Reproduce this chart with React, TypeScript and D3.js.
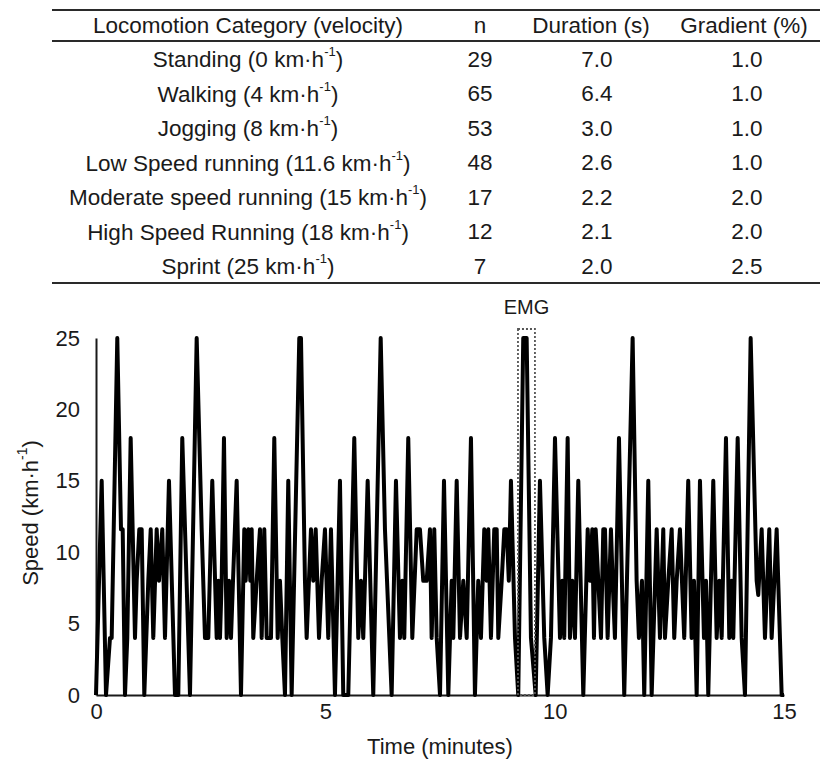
import { useRef, useEffect } from "react";
import * as d3 from "d3";

// table content
const categoryNames = [
  "Standing",
  "Walking",
  "Jogging",
  "Low Speed running",
  "Moderate speed running",
  "High Speed Running",
  "Sprint",
];
const categorySpeeds = ["0", "4", "8", "11.6", "15", "18", "25"];
const nValues = ["29", "65", "53", "48", "17", "12", "7"];
const durations = ["7.0", "6.4", "3.0", "2.6", "2.2", "2.1", "2.0"];
const gradients = ["1.0", "1.0", "1.0", "1.0", "2.0", "2.0", "2.5"];
const headers = ["Locomotion Category (velocity)", "n", "Duration (s)", "Gradient (%)"];

// speed profile (minutes, km/h)
const timeMin = [
  0.0, 0.124, 0.218, 0.305, 0.342, 0.464, 0.545, 0.582, 0.632, 0.682, 0.756, 0.85, 0.887, 0.944,
  0.996, 1.053, 1.14, 1.193, 1.249, 1.323, 1.373, 1.445, 1.504, 1.591, 1.722, 1.794, 1.881, 2.049,
  2.195, 2.304, 2.376, 2.448, 2.535, 2.631, 2.666, 2.703, 2.74, 2.79, 2.849, 2.9, 2.943, 2.987,
  3.067, 3.161, 3.233, 3.263, 3.32, 3.364, 3.394, 3.429, 3.503, 3.575, 3.612, 3.669, 3.722, 3.815,
  3.887, 3.961, 4.011, 4.062, 4.12, 4.192, 4.266, 4.432, 4.469, 4.556, 4.593, 4.687, 4.737, 4.79,
  4.862, 4.92, 4.992, 5.064, 5.123, 5.21, 5.319, 5.391, 5.5, 5.631, 5.718, 5.777, 5.827, 5.864,
  5.923, 6.045, 6.207, 6.3, 6.446, 6.54, 6.627, 6.677, 6.721, 6.808, 6.896, 6.992, 7.063, 7.135,
  7.21, 7.281, 7.318, 7.375, 7.428, 7.5, 7.587, 7.681, 7.755, 7.79, 7.864, 7.936, 8.008, 8.082,
  8.175, 8.262, 8.334, 8.393, 8.465, 8.518, 8.553, 8.611, 8.683, 8.736, 8.771, 8.845, 8.902, 8.954,
  9.0, 9.047, 9.135, 9.206, 9.315, 9.389, 9.483, 9.586, 9.679, 9.773, 9.847, 9.919, 10.007, 10.116,
  10.166, 10.209, 10.283, 10.333, 10.384, 10.443, 10.515, 10.624, 10.72, 10.77, 10.82, 10.857,
  10.894, 10.951, 11.01, 11.06, 11.097, 11.155, 11.227, 11.264, 11.314, 11.402, 11.517, 11.7,
  11.787, 11.837, 11.903, 11.953, 12.041, 12.115, 12.224, 12.296, 12.368, 12.405, 12.477, 12.551,
  12.607, 12.66, 12.731, 12.825, 12.912, 12.986, 13.037, 13.096, 13.168, 13.255, 13.299, 13.349,
  13.458, 13.532, 13.589, 13.641, 13.735, 13.807, 13.859, 13.894, 13.99, 14.077, 14.149, 14.273,
  14.404, 14.439, 14.513, 14.585, 14.679, 14.731, 14.84, 14.949, 15.0,
];
const speedKmh = [
  0, 15, 0, 4, 4, 25, 11.6, 11.6, 0, 4, 18, 4, 8, 11.6,
  11.6, 0, 8, 11.6, 4, 11.6, 8, 11.6, 4, 15, 0, 0, 18, 0,
  25, 11.6, 4, 4, 15, 4, 8, 4, 8, 18, 4, 8, 4, 8,
  15, 0, 11.6, 8, 11.6, 8, 11.6, 4, 8, 11.6, 4, 11.6, 4, 4,
  18, 4, 8, 4, 0, 15, 0, 25, 25, 8, 4, 11.6, 8, 11.6,
  4, 8, 11.6, 4, 11.6, 0, 15, 0, 0, 18, 4, 8, 4, 8,
  15, 0, 25, 11.6, 0, 15, 4, 8, 4, 18, 4, 11.6, 11.6, 8,
  8, 11.6, 4, 11.6, 4, 0, 15, 0, 8, 4, 15, 4, 8, 4,
  18, 0, 8, 4, 11.6, 8, 11.6, 4, 11.6, 11.6, 4, 8, 11.6, 11.6,
  8, 15, 4, 0, 25, 25, 4, 0, 15, 4, 0, 4, 18, 4,
  8, 4, 18, 4, 8, 4, 15, 0, 11.6, 8, 11.6, 4,
  11.6, 8, 4, 11.6, 11.6, 4, 11.6, 8, 4, 18, 0, 25,
  8, 4, 8, 0, 15, 0, 11.6, 4, 11.6, 4, 8, 11.6,
  4, 8, 11.6, 4, 15, 4, 8, 0, 15, 4, 8, 0,
  15, 4, 8, 4, 18, 4, 8, 4, 18, 4, 0, 25,
  8, 7, 11.6, 4, 11.6, 4, 11.6, 0, 0,
];
const yTicks = [0, 5, 10, 15, 20, 25];
const xTicks = [0, 5, 10, 15];

const FONT = "'Liberation Sans', Arial, sans-serif";

export default function App() {
  const ref = useRef<SVGSVGElement>(null);

  useEffect(() => {
    if (!ref.current) return;
    const svg = d3.select(ref.current);
    svg.selectAll("*").remove();

    // ---- table ----
    const table = svg.append("g").attr("font-family", FONT).attr("font-size", 22.5).attr("fill", "#1a1a1a");
    const ruleX = [52, 820];
    [10, 41, 283].forEach((y) =>
      table
        .append("line")
        .attr("x1", ruleX[0])
        .attr("x2", ruleX[1])
        .attr("y1", y)
        .attr("y2", y)
        .attr("stroke", "#2a2a2a")
        .attr("stroke-width", 2.2)
    );

    const headerX = [248, 480, 591, 744];
    const dataX = [248, 480, 597, 747];
    headers.forEach((h, i) =>
      table
        .append("text")
        .attr("x", headerX[i])
        .attr("y", 25)
        .attr("text-anchor", "middle")
        .attr("dominant-baseline", "central")
        .text(h)
    );

    const rowY = d3.scalePoint<number>().domain(d3.range(categoryNames.length)).range([59, 266]);
    categoryNames.forEach((name, i) => {
      const t = table
        .append("text")
        .attr("x", dataX[0])
        .attr("y", rowY(i)!)
        .attr("text-anchor", "middle")
        .attr("dominant-baseline", "central");
      t.append("tspan").text(`${name} (${categorySpeeds[i]} km·h`);
      t.append("tspan").attr("font-size", 13).attr("dy", -8).text("-1");
      t.append("tspan").attr("dy", 8).text(")");
      [nValues[i], durations[i], gradients[i]].forEach((v, j) =>
        table
          .append("text")
          .attr("x", dataX[j + 1])
          .attr("y", rowY(i)!)
          .attr("text-anchor", "middle")
          .attr("dominant-baseline", "central")
          .text(v)
      );
    });

    // ---- speed chart ----
    const x = d3.scaleLinear().domain([0, 15]).range([96, 784]);
    const y = d3.scaleLinear().domain([0, 25]).range([695, 338]);

    const yAxis = d3.axisLeft(y).tickValues(yTicks).tickSize(0).tickSizeOuter(0).tickPadding(16);
    const xAxis = d3.axisBottom(x).tickValues(xTicks).tickSize(0).tickSizeOuter(0).tickPadding(8);

    svg
      .append("g")
      .attr("transform", `translate(${x(0)},0)`)
      .call(yAxis)
      .call((g) => g.select(".domain").attr("stroke", "#1a1a1a").attr("stroke-width", 2))
      .call((g) => g.selectAll("text").attr("font-size", 22).attr("font-family", FONT).attr("fill", "#1a1a1a"));

    svg
      .append("g")
      .attr("transform", `translate(0,${y(0)})`)
      .call(xAxis)
      .call((g) => g.select(".domain").attr("stroke", "#1a1a1a").attr("stroke-width", 2))
      .call((g) => g.selectAll("text").attr("font-size", 22).attr("font-family", FONT).attr("fill", "#1a1a1a"));

    const line = d3
      .line<number>()
      .x((i) => x(timeMin[i]))
      .y((i) => y(speedKmh[i]));

    svg
      .append("path")
      .datum(d3.range(timeMin.length))
      .attr("fill", "none")
      .attr("stroke", "#000")
      .attr("stroke-width", 4)
      .attr("stroke-linejoin", "round")
      .attr("d", line);

    // EMG window
    svg
      .append("rect")
      .attr("x", x(9.2))
      .attr("y", 329)
      .attr("width", x(9.57) - x(9.2))
      .attr("height", y(0) - 329)
      .attr("fill", "none")
      .attr("stroke", "#555")
      .attr("stroke-width", 1.8)
      .attr("stroke-dasharray", "2,2");
    svg
      .append("text")
      .attr("x", x(9.385))
      .attr("y", 307)
      .attr("text-anchor", "middle")
      .attr("dominant-baseline", "central")
      .attr("font-family", FONT)
      .attr("font-size", 20)
      .attr("fill", "#1a1a1a")
      .text("EMG");

    // axis titles
    svg
      .append("text")
      .attr("x", 440)
      .attr("y", 746)
      .attr("text-anchor", "middle")
      .attr("dominant-baseline", "central")
      .attr("font-family", FONT)
      .attr("font-size", 22)
      .attr("fill", "#1a1a1a")
      .text("Time (minutes)");

    const yTitle = svg
      .append("text")
      .attr("transform", "translate(30,513) rotate(-90)")
      .attr("text-anchor", "middle")
      .attr("dominant-baseline", "central")
      .attr("font-family", FONT)
      .attr("font-size", 22)
      .attr("fill", "#1a1a1a");
    yTitle.append("tspan").text("Speed (km·h");
    yTitle.append("tspan").attr("font-size", 14).attr("dy", -8).text("-1");
    yTitle.append("tspan").attr("dy", 8).text(")");
  }, []);

  return (
    <svg
      ref={ref}
      width={820}
      height={761}
      style={{ position: "absolute", left: 0, top: 0, background: "#fff" }}
    />
  );
}
